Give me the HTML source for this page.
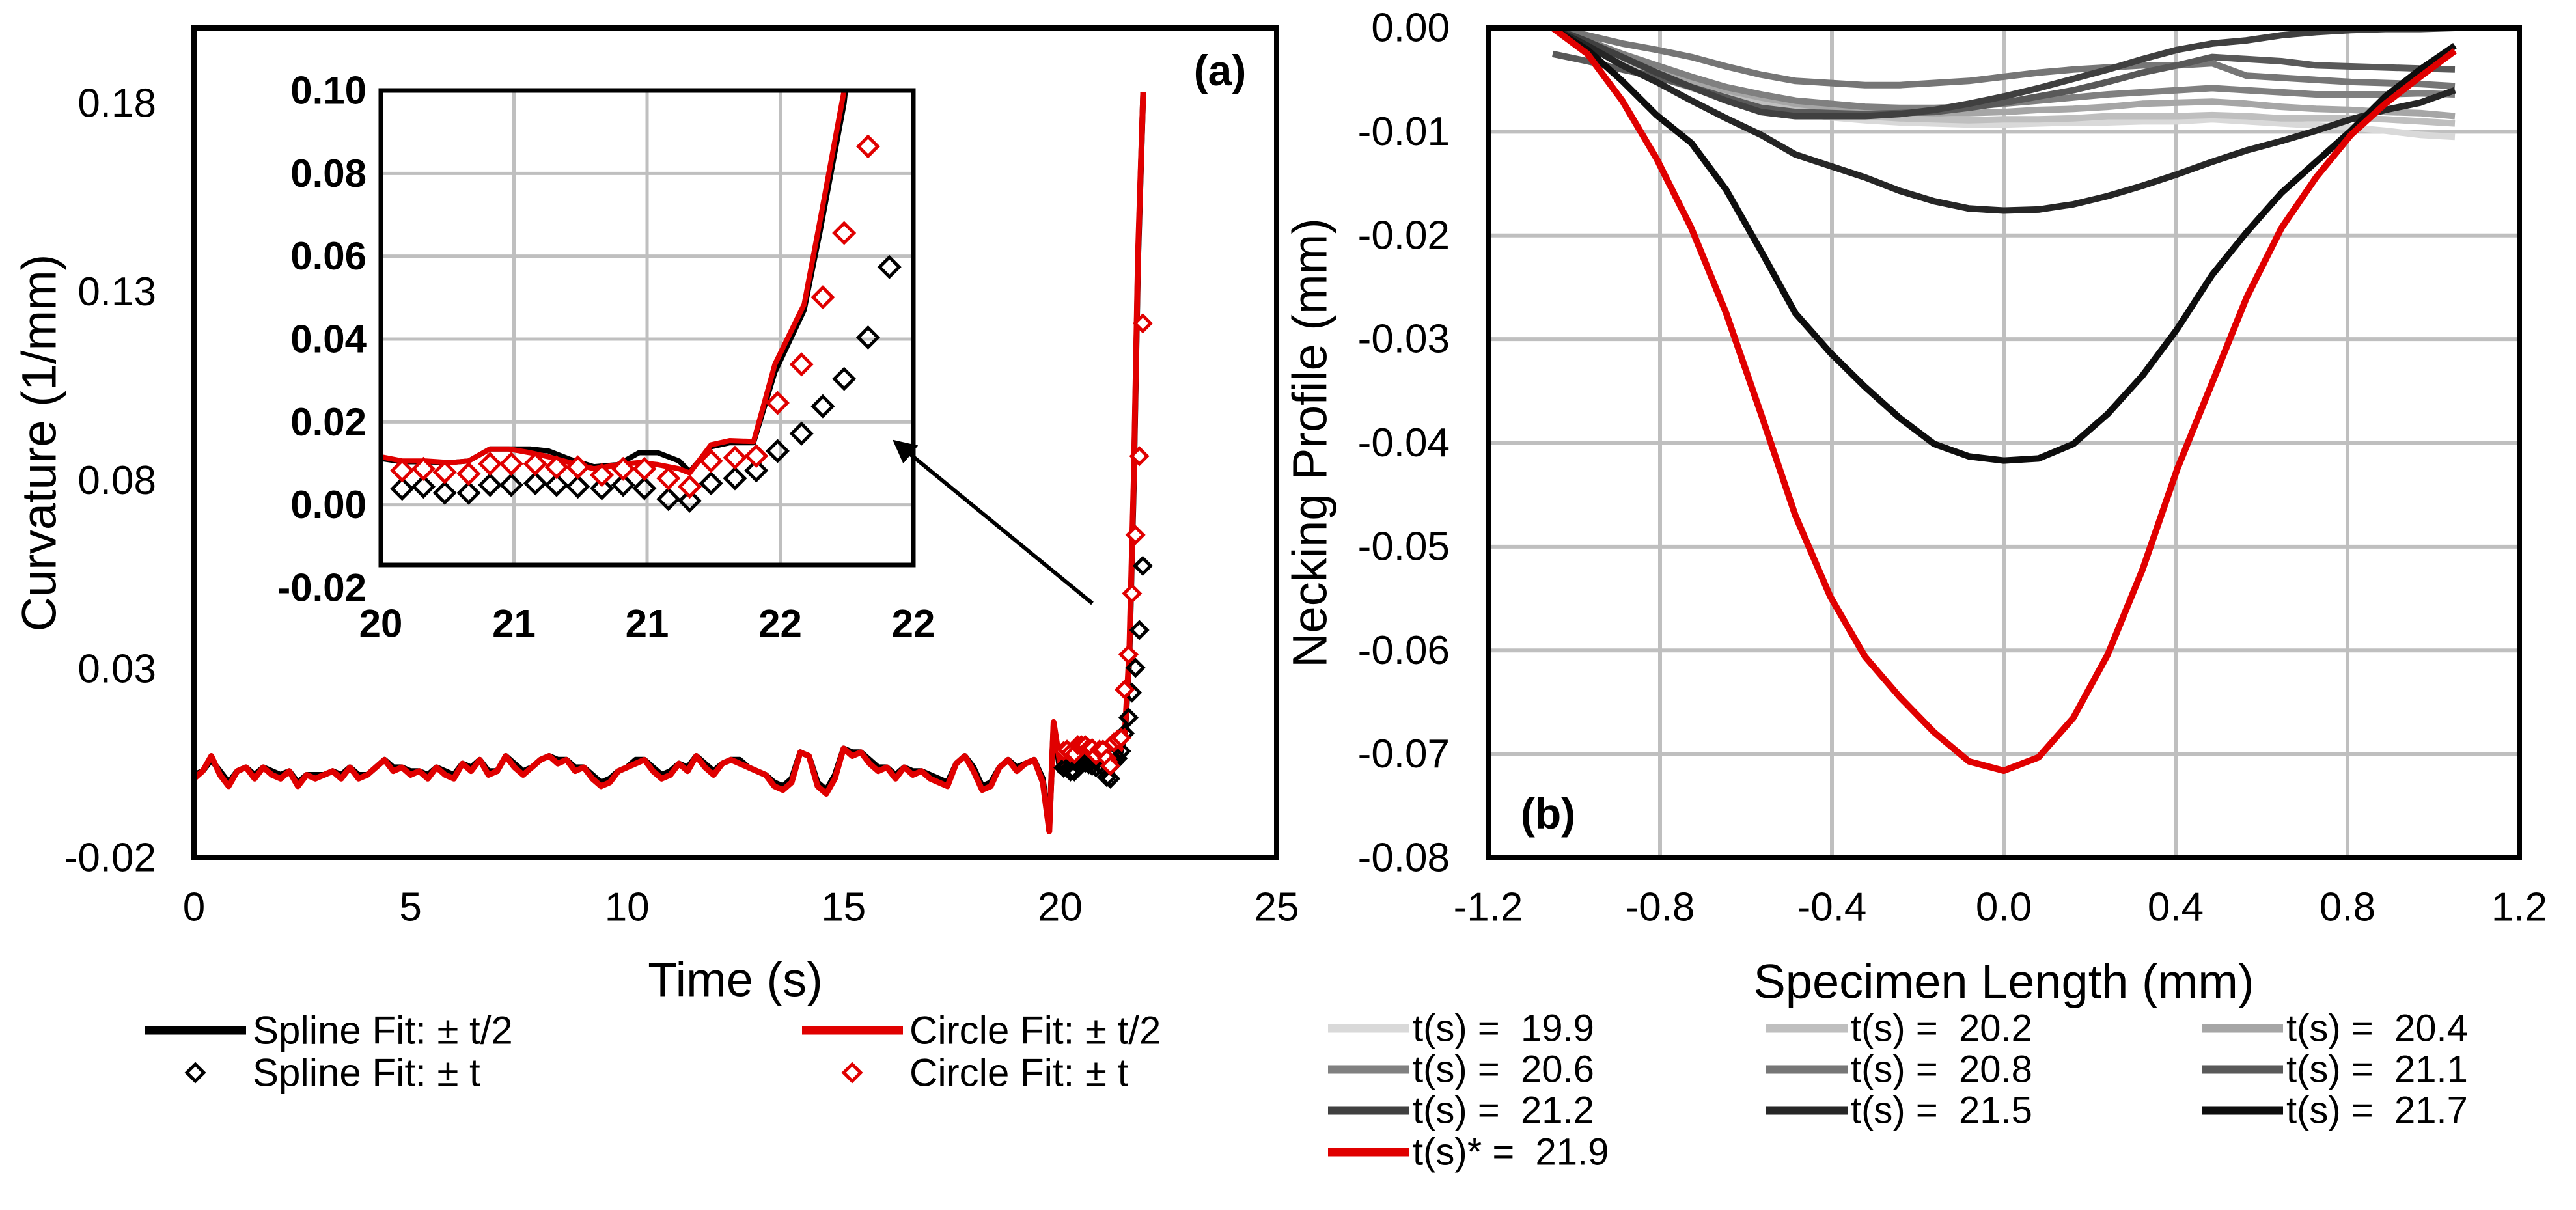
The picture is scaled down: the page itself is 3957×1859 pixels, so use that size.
<!DOCTYPE html>
<html><head><meta charset="utf-8"><style>
html,body{margin:0;padding:0;background:#fff}
svg{display:block;font-family:"Liberation Sans",Arial,sans-serif}
text{white-space:pre}
</style></head><body>
<svg id="fig" width="3957" height="1859" viewBox="0 0 3957 1859" xmlns="http://www.w3.org/2000/svg">
<g id="chartA"></g>
<g id="chartB"></g>
</svg>
<script>
// ---------- Chart (a) data ----------
const mainTimes = [0,0.2,0.4,0.6,0.8,1,1.2,1.4,1.6,1.8,2,2.2,2.4,2.6,2.8,3,3.2,3.4,3.6,3.8,4,4.2,4.4,4.6,4.8,5,5.2,5.4,5.6,5.8,6,6.2,6.4,6.6,6.8,7,7.2,7.4,7.6,7.8,8,8.2,8.4,8.6,8.8,9,9.2,9.4,9.6,9.8,10,10.2,10.4,10.6,10.8,11,11.2,11.4,11.6,11.8,12,12.2,12.4,12.6,12.8,13,13.2,13.4,13.6,13.8,14,14.2,14.4,14.6,14.8,15,15.2,15.4,15.6,15.8,16,16.2,16.4,16.6,16.8,17,17.2,17.4,17.6,17.8,18,18.2,18.4,18.6,18.8,19,19.2,19.4,19.6,19.75,19.85,20,20.2,20.4,20.6,20.8,21,21.2,21.4,21.5,21.6,21.7,21.8,21.92];
const circleHalf = [0.001,0.003,0.007,0.002,-0.001,0.003,0.004,0.001,0.004,0.002,
0.001,0.003,-0.001,0.002,0.001,0.002,0.003,0.001,0.004,0.001,
0.002,0.004,0.006,0.003,0.004,0.002,0.003,0.001,0.004,0.002,
0.001,0.005,0.003,0.006,0.002,0.003,0.007,0.004,0.002,0.004,
0.006,0.007,0.005,0.006,0.003,0.004,0.001,-0.001,0.000,0.003,
0.004,0.005,0.006,0.003,0.001,0.002,0.005,0.003,0.007,0.004,
0.002,0.005,0.006,0.005,0.004,0.003,0.002,-0.001,-0.002,0.000,
0.008,0.007,-0.001,-0.003,0.001,0.009,0.007,0.008,0.005,0.003,
0.004,0.001,0.004,0.002,0.003,0.001,0.000,-0.001,0.005,0.007,
0.003,-0.002,-0.001,0.004,0.006,0.003,0.005,0.006,0.000,
-0.013,0.016,0.005,0.008,0.006,0.008,0.005,0.009,0.004,0.009,0.014,0.035,0.080,0.140,0.183];
const splineHalf = [0.002,0.003,0.006,0.003,0.000,0.003,0.004,0.002,0.004,0.003,
0.002,0.003,0.000,0.002,0.002,0.002,0.003,0.002,0.004,0.002,
0.002,0.004,0.006,0.004,0.004,0.003,0.003,0.002,0.004,0.003,
0.002,0.005,0.004,0.006,0.003,0.003,0.007,0.005,0.003,0.004,
0.006,0.007,0.006,0.006,0.004,0.004,0.002,0.000,0.001,0.003,
0.004,0.006,0.006,0.004,0.002,0.003,0.005,0.004,0.007,0.005,
0.003,0.005,0.006,0.006,0.004,0.003,0.002,0.000,-0.001,0.001,
0.008,0.007,0.000,-0.002,0.002,0.009,0.008,0.008,0.006,0.004,
0.004,0.002,0.004,0.003,0.003,0.002,0.001,0.000,0.005,0.007,
0.004,-0.001,0.000,0.004,0.006,0.004,0.005,0.006,0.001,
-0.012,0.015,0.003,0.006,0.004,0.006,0.004,0.007,0.003,0.008,0.013,0.033,0.078,0.138,0.183];
const insetTimes = [20,20.08,20.17,20.26,20.33,20.41,20.48,20.56,20.63,20.71,20.8,20.89,20.97,21.04,21.12,21.16,21.24,21.31,21.4,21.48,21.59,21.65,21.74,21.8];
const insetCircle = [0.0116,0.0106,0.0106,0.0102,0.0106,0.0135,0.0135,0.0126,0.0116,0.0102,0.0087,0.0097,0.0102,0.0097,0.0087,0.0077,0.0145,0.0155,0.0153,0.0339,0.0484,0.0687,0.10,0.14];
const insetSpline = [0.0112,0.0104,0.0104,0.0102,0.0106,0.0135,0.0135,0.0135,0.0130,0.0110,0.0092,0.0097,0.0126,0.0126,0.0106,0.0080,0.0140,0.0150,0.0150,0.0320,0.0470,0.0660,0.097,0.135];
const diamondTimes = [20.08,20.16,20.24,20.33,20.41,20.49,20.58,20.66,20.74,20.83,20.91,20.99,21.08,21.16,21.24,21.33,21.41,21.49,21.58,21.66,21.74,21.83,21.91];
const splineFull = [0.0039,0.0044,0.0029,0.0029,0.0048,0.0048,0.0052,0.0048,0.0044,0.0040,0.0048,0.0040,0.0014,0.0010,0.0052,0.0064,0.0083,0.0130,0.0172,0.0238,0.0304,0.0404,0.0574];
const circleFull = [0.0083,0.0087,0.0079,0.0075,0.0099,0.0099,0.0099,0.0091,0.0091,0.0072,0.0087,0.0087,0.0064,0.0044,0.0106,0.0114,0.0118,0.0246,0.0339,0.0501,0.0656,0.0865,0.1217];
const mainXTicks = [0,5,10,15,20,25];
const mainYTicks = [-0.02,0.03,0.08,0.13,0.18];
const insetXTicks = [20,20.5,21,21.5,22];
const insetXLabels = ["20","21","21","22","22"];
const insetYTicks = [-0.02,0,0.02,0.04,0.06,0.08,0.10];

// ---------- Chart (b) data ----------
const specX = [-1.05,-0.969,-0.888,-0.808,-0.727,-0.646,-0.565,-0.485,-0.404,-0.323,-0.242,-0.162,-0.081,0,0.081,0.162,0.242,0.323,0.404,0.485,0.565,0.646,0.727,0.808,0.888,0.969,1.05];
const prof199 = [0,-0.0016,-0.0032,-0.0047,-0.0058,-0.0068,-0.0076,-0.0082,-0.0086,-0.0089,-0.0091,-0.0092,-0.0093,-0.0093,-0.0092,-0.0091,-0.0091,-0.0090,-0.0090,-0.0088,-0.0090,-0.0092,-0.0094,-0.0096,-0.0099,-0.0103,-0.0105];
const prof202 = [0,-0.0015,-0.0030,-0.0043,-0.0055,-0.0064,-0.0072,-0.0078,-0.0082,-0.0085,-0.0087,-0.0088,-0.0089,-0.0088,-0.0088,-0.0087,-0.0085,-0.0085,-0.0085,-0.0084,-0.0085,-0.0087,-0.0087,-0.0087,-0.0088,-0.0090,-0.0092];
const prof204 = [0,-0.0013,-0.0027,-0.0040,-0.0051,-0.0060,-0.0067,-0.0073,-0.0077,-0.0079,-0.0081,-0.0082,-0.0082,-0.0081,-0.0079,-0.0078,-0.0076,-0.0073,-0.0072,-0.0071,-0.0073,-0.0076,-0.0078,-0.0079,-0.0081,-0.0082,-0.0085];
const prof206 = [0,-0.0012,-0.0025,-0.0036,-0.0047,-0.0057,-0.0064,-0.0070,-0.0073,-0.0076,-0.0077,-0.0077,-0.0076,-0.0073,-0.0070,-0.0067,-0.0064,-0.0062,-0.0060,-0.0058,-0.0060,-0.0062,-0.0064,-0.0064,-0.0064,-0.0063,-0.0064];
const prof208 = [0,-0.0007,-0.0015,-0.0021,-0.0028,-0.0037,-0.0045,-0.0051,-0.0053,-0.0055,-0.0055,-0.0053,-0.0051,-0.0047,-0.0043,-0.0040,-0.0038,-0.0036,-0.0036,-0.0034,-0.0046,-0.0048,-0.0050,-0.0052,-0.0053,-0.0054,-0.0056];
const prof211 = [-0.0025,-0.0032,-0.0040,-0.0047,-0.0057,-0.0067,-0.0077,-0.0081,-0.0082,-0.0083,-0.0082,-0.0081,-0.0077,-0.0072,-0.0066,-0.0060,-0.0052,-0.0043,-0.0036,-0.0028,-0.0030,-0.0032,-0.0036,-0.0037,-0.0038,-0.0039,-0.0040];
const prof212 = [0,-0.0013,-0.0028,-0.0043,-0.0057,-0.0070,-0.0081,-0.0085,-0.0085,-0.0085,-0.0083,-0.0079,-0.0073,-0.0066,-0.0058,-0.0049,-0.0040,-0.0030,-0.0021,-0.0015,-0.0012,-0.0007,-0.0004,-0.0002,-0.0001,-0.0001,0];
const prof215 = [0,-0.0017,-0.0036,-0.0052,-0.0070,-0.0087,-0.0103,-0.0122,-0.0133,-0.0144,-0.0157,-0.0167,-0.0174,-0.0176,-0.0175,-0.0170,-0.0162,-0.0152,-0.0141,-0.0129,-0.0118,-0.0109,-0.0099,-0.0088,-0.0079,-0.0072,-0.0060];
const prof217 = [0,-0.0021,-0.0051,-0.0084,-0.0111,-0.0156,-0.0215,-0.0275,-0.0313,-0.0346,-0.0376,-0.0401,-0.0413,-0.0417,-0.0415,-0.0401,-0.0372,-0.0335,-0.0290,-0.0238,-0.0197,-0.0159,-0.0129,-0.0099,-0.0066,-0.0040,-0.0017];
const prof219 = [0,-0.0025,-0.0070,-0.0126,-0.0193,-0.0275,-0.0372,-0.0470,-0.0548,-0.0606,-0.0645,-0.0679,-0.0707,-0.0716,-0.0703,-0.0665,-0.0604,-0.0522,-0.0425,-0.0342,-0.0260,-0.0193,-0.0144,-0.0103,-0.0073,-0.0047,-0.0022];
const seriesLabels = ["t(s) =  19.9","t(s) =  20.2","t(s) =  20.4","t(s) =  20.6","t(s) =  20.8","t(s) =  21.1","t(s) =  21.2","t(s) =  21.5","t(s) =  21.7","t(s)* =  21.9"];
const bXTicks = [-1.2,-0.8,-0.4,0,0.4,0.8,1.2];
const bXLabels = ["-1.2","-0.8","-0.4","0.0","0.4","0.8","1.2"];
const bYTicks = [0,-0.01,-0.02,-0.03,-0.04,-0.05,-0.06,-0.07,-0.08];
const bYLabels = ["0.00","-0.01","-0.02","-0.03","-0.04","-0.05","-0.06","-0.07","-0.08"];

const NS = "http://www.w3.org/2000/svg";
function mk(parent, tag, attrs, text){
  const e = document.createElementNS(NS, tag);
  for (const k in attrs) e.setAttribute(k, attrs[k]);
  if (text !== undefined) e.textContent = text;
  parent.appendChild(e);
  return e;
}
function lin(d0,d1,r0,r1){ return v => r0 + (v-d0)/(d1-d0)*(r1-r0); }
function pathFrom(xs, ys, sx, sy){ return xs.map((x,i)=>(i?'L':'M')+sx(x).toFixed(1)+' '+sy(ys[i]).toFixed(1)).join(' '); }
function diamondPath(cx, cy, r){ return `M${cx} ${cy-r} L${cx+r} ${cy} L${cx} ${cy+r} L${cx-r} ${cy} Z`; }

// ================= Chart (a) =================
const A = document.getElementById('chartA');
const aL=298, aR=1961, aT=43, aB=1318;
const ax = lin(0,25,aL,aR), ay = lin(-0.02,0.2,aB,aT);
mk(A,'defs',{}).innerHTML = `<clipPath id="clipA"><rect x="${aL}" y="${aT}" width="${aR-aL}" height="${aB-aT}"/></clipPath><marker id="arrowhead" markerWidth="6" markerHeight="6" refX="3" refY="3" orient="auto" markerUnits="strokeWidth"><path d="M0 0 L6 3 L0 6 Z" fill="#000"/></marker>`;
const aPlot = mk(A,'g',{'clip-path':'url(#clipA)'});


let e;
e = mk(aPlot,'path',{d:pathFrom(mainTimes,splineHalf,ax,ay),fill:'none',stroke:'#000','stroke-width':9,'stroke-linejoin':'round'});


e = mk(aPlot,'path',{d:pathFrom(mainTimes,circleHalf,ax,ay),fill:'none',stroke:'#e00000','stroke-width':9,'stroke-linejoin':'round'});


diamondTimes.forEach((t,i)=>{
  const d = mk(aPlot,'path',{d:diamondPath(ax(t),ay(splineFull[i]),12),fill:'none',stroke:'#000','stroke-width':5});
  
  
});
diamondTimes.forEach((t,i)=>{
  const d = mk(aPlot,'path',{d:diamondPath(ax(t),ay(circleFull[i]),12),fill:'#fff',stroke:'#e00000','stroke-width':5});
  
  
});
e = mk(A,'rect',{x:aL,y:aT,width:aR-aL,height:aB-aT,fill:'none',stroke:'#000','stroke-width':8});


mainXTicks.forEach(v=>{
  const t = mk(A,'text',{x:ax(v),y:1394,'font-size':62,'text-anchor':'middle','dominant-baseline':'central'},String(v));
  
  
});
mainYTicks.forEach(v=>{
  const t = mk(A,'text',{x:240,y:ay(v),'font-size':62,'text-anchor':'end','dominant-baseline':'central'},v.toFixed(2));
  
  
});
e = mk(A,'text',{x:(aL+aR)/2,y:1505,'font-size':74,'text-anchor':'middle','dominant-baseline':'central'},'Time (s)');


e = mk(A,'text',{x:60,y:(aT+aB)/2,'font-size':74,'text-anchor':'middle','dominant-baseline':'central',transform:`rotate(-90 60 ${(aT+aB)/2})`},'Curvature (1/mm)');


e = mk(A,'text',{x:1874,y:108,'font-size':66,'font-weight':'bold','text-anchor':'middle','dominant-baseline':'central'},'(a)');



// inset
const iL=585, iR=1403, iT=139, iB=868;
const ix = lin(20,22,iL,iR), iy = lin(-0.0145,0.10,iB,iT);
mk(A,'defs',{}).innerHTML = `<clipPath id="clipI"><rect x="${iL}" y="${iT}" width="${iR-iL}" height="${iB-iT}"/></clipPath>`;
const inset = mk(A,'g',{});


mk(inset,'rect',{x:iL,y:iT,width:iR-iL,height:iB-iT,fill:'#fff'});
insetXTicks.forEach(v=>{
  const g = mk(inset,'line',{x1:ix(v),x2:ix(v),y1:iT,y2:iB,stroke:'#bfbfbf','stroke-width':5});
  
  
});
insetYTicks.forEach(v=>{
  if (v < -0.0145) return;
  const g = mk(inset,'line',{x1:iL,x2:iR,y1:iy(v),y2:iy(v),stroke:'#bfbfbf','stroke-width':5});
  
  
});
const iPlot = mk(inset,'g',{'clip-path':'url(#clipI)'});
e = mk(iPlot,'path',{d:pathFrom(insetTimes,insetSpline,ix,iy),fill:'none',stroke:'#000','stroke-width':8,'stroke-linejoin':'round'});


e = mk(iPlot,'path',{d:pathFrom(insetTimes,insetCircle,ix,iy),fill:'none',stroke:'#e00000','stroke-width':8,'stroke-linejoin':'round'});


diamondTimes.forEach((t,i)=>{
  const d = mk(iPlot,'path',{d:diamondPath(ix(t),iy(splineFull[i]),15),fill:'none',stroke:'#000','stroke-width':5});
  
  
});
diamondTimes.forEach((t,i)=>{
  const d = mk(iPlot,'path',{d:diamondPath(ix(t),iy(circleFull[i]),15),fill:'#fff',stroke:'#e00000','stroke-width':5});
  
  
});
e = mk(inset,'rect',{x:iL,y:iT,width:iR-iL,height:iB-iT,fill:'none',stroke:'#000','stroke-width':7});


insetXTicks.forEach((v,i)=>{
  const t = mk(inset,'text',{x:ix(v),y:iB+90,'font-size':60,'font-weight':'bold','text-anchor':'middle','dominant-baseline':'central'},insetXLabels[i]);
  
  
});
insetYTicks.forEach(v=>{
  const t = mk(inset,'text',{x:iL-22,y:iy(v),'font-size':60,'font-weight':'bold','text-anchor':'end','dominant-baseline':'central'},v.toFixed(2));
  
  
});
e = mk(A,'line',{x1:1678,y1:927,x2:1385,y2:687,stroke:'#000','stroke-width':6,'marker-end':'url(#arrowhead)'});



// legend (a)
const legA = mk(A,'g',{});


const legAItems = [
  {label:'Spline Fit: ± t/2', color:'#000', type:'line', lx:223, ly:1583},
  {label:'Circle Fit: ± t/2', color:'#e00000', type:'line', lx:1232, ly:1583},
  {label:'Spline Fit: ± t', color:'#000', type:'marker', lx:223, ly:1648},
  {label:'Circle Fit: ± t', color:'#e00000', type:'marker', lx:1232, ly:1648}
];
legAItems.forEach(it=>{
  const g = mk(legA,'g',{});
  
  
  if (it.type==='line') mk(g,'line',{x1:it.lx,x2:it.lx+155,y1:it.ly,y2:it.ly,stroke:it.color,'stroke-width':13});
  else mk(g,'path',{d:diamondPath(it.lx+77,it.ly,13),fill:'none',stroke:it.color,'stroke-width':5});
  mk(g,'text',{x:it.lx+165,y:it.ly,'font-size':60,'dominant-baseline':'central'},it.label);
});

// ================= Chart (b) =================
const B = document.getElementById('chartB');
const bL=2286, bR=3870, bT=43, bB=1318;
const bx = lin(-1.2,1.2,bL,bR), by = lin(-0.08,0,bB,bT);
bXTicks.forEach(v=>{
  const g = mk(B,'line',{x1:bx(v),x2:bx(v),y1:bT,y2:bB,stroke:'#bfbfbf','stroke-width':6});
  
  
});
bYTicks.forEach(v=>{
  const g = mk(B,'line',{x1:bL,x2:bR,y1:by(v),y2:by(v),stroke:'#bfbfbf','stroke-width':6});
  
  
});
const profiles = [prof199,prof202,prof204,prof206,prof208,prof211,prof212,prof215,prof217,prof219];
const profColors = ['#d9d9d9','#bfbfbf','#a6a6a6','#808080','#767676','#595959','#404040','#262626','#0d0d0d','#e00000'];
profiles.forEach((p,i)=>{
  const l = mk(B,'path',{d:pathFrom(specX,p,bx,by),fill:'none',stroke:profColors[i],'stroke-width':10,'stroke-linejoin':'round'});
  
  
});
e = mk(B,'rect',{x:bL,y:bT,width:bR-bL,height:bB-bT,fill:'none',stroke:'#000','stroke-width':8});


bXTicks.forEach((v,i)=>{
  const t = mk(B,'text',{x:bx(v),y:1394,'font-size':62,'text-anchor':'middle','dominant-baseline':'central'},bXLabels[i]);
  
  
});
bYTicks.forEach((v,i)=>{
  const t = mk(B,'text',{x:2227,y:by(v),'font-size':62,'text-anchor':'end','dominant-baseline':'central'},bYLabels[i]);
  
  
});
e = mk(B,'text',{x:(bL+bR)/2,y:1508,'font-size':74,'text-anchor':'middle','dominant-baseline':'central'},'Specimen Length (mm)');


e = mk(B,'text',{x:2012,y:(bT+bB)/2,'font-size':74,'text-anchor':'middle','dominant-baseline':'central',transform:`rotate(-90 2012 ${(bT+bB)/2})`},'Necking Profile (mm)');


e = mk(B,'text',{x:2378,y:1250,'font-size':66,'font-weight':'bold','text-anchor':'middle','dominant-baseline':'central'},'(b)');



const legB = mk(B,'g',{});


const colX = [2040,2713,3382], rowY = [1580,1643,1706,1770];
seriesLabels.forEach((lab,i)=>{
  const cx = colX[i%3], cy = rowY[Math.floor(i/3)];
  const g = mk(legB,'g',{});
  
  
  mk(g,'line',{x1:cx,x2:cx+125,y1:cy,y2:cy,stroke:profColors[i],'stroke-width':13});
  mk(g,'text',{x:cx+130,y:cy,'font-size':58,'dominant-baseline':'central'},lab);
});
</script>
</body></html>
